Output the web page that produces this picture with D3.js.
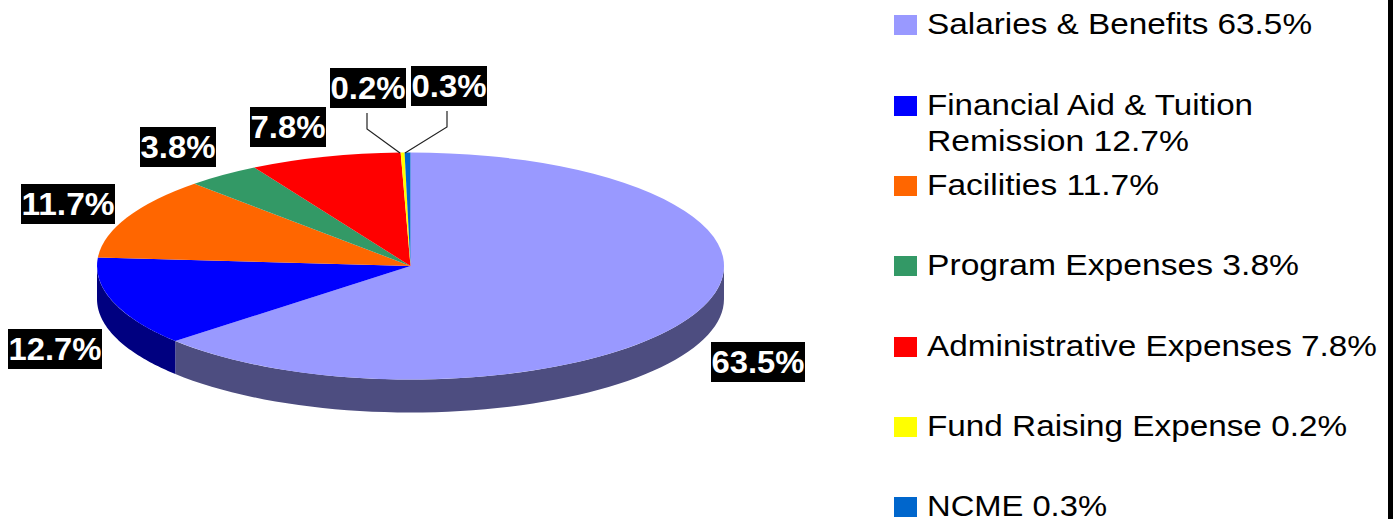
<!DOCTYPE html>
<html><head><meta charset="utf-8">
<script src="https://cdn.jsdelivr.net/npm/d3@7"></script>
<style>html,body{margin:0;padding:0;background:#fff;overflow:hidden}svg{display:block}
text{font-family:"Liberation Sans",Arial,sans-serif}</style></head>
<body><svg id="c" width="1393" height="519"></svg>
<script>
const categories=["Salaries & Benefits","Financial Aid & Tuition Remission","Facilities","Program Expenses","Administrative Expenses","Fund Raising Expense","NCME"];
const values=[63.5,12.7,11.7,3.8,7.8,0.2,0.3];
const topColors=["#9999FF","#0000FF","#FF6600","#339966","#FF0000","#FFFF00","#0066CC"];
const sideColors=["#4D4D80","#000080","#803300","#1A4D33","#800000","#808000","#003366"];
const legendLines=[["Salaries & Benefits 63.5%"],["Financial Aid & Tuition","Remission 12.7%"],["Facilities 11.7%"],["Program Expenses 3.8%"],["Administrative Expenses 7.8%"],["Fund Raising Expense 0.2%"],["NCME 0.3%"]];
const legendWidths=[[385],[326,262],[232],[372],[450],[420],[180]];
const legendY=[15,96,176,256,337,417,497];
const labelBoxes=[[711,342,94],[8,329,94],[21,184,94],[140,127,76],[250,107,76],[330,68,76],[411,66,76]];
const leaders=[null,null,null,null,null,[[367,113],[367,129],[400,153]],[[447,111],[447,127],[405,153]]];

const svg=d3.select("#c");
const cx=410.5,cy=266,rx=313.5,ry=113.5,depth=33;
const pie=d3.pie().sort(null).value(d=>d)(values);
const arc=d3.arc().innerRadius(0).outerRadius(rx);
const g=svg.append("g");

// side walls of the visible front half
const px=a=>cx+rx*Math.sin(a), py=a=>cy-ry*Math.cos(a);
const line=d3.line();
pie.forEach((p,i)=>{
  const a0=Math.max(p.startAngle,Math.PI/2), a1=Math.min(p.endAngle,3*Math.PI/2);
  if(a1<=a0) return;
  const as=d3.range(0,61).map(k=>a0+(a1-a0)*k/60);
  const pts=as.map(a=>[px(a),py(a)]).concat(as.slice().reverse().map(a=>[px(a),py(a)+depth]));
  g.append("path").attr("d",line(pts)+"Z").attr("fill",sideColors[i]);
});
// top face
const face=g.append("g").attr("transform",`translate(${cx},${cy}) scale(1,${ry/rx})`);
face.selectAll("path").data(pie).join("path").attr("d",arc).attr("fill",(d,i)=>topColors[i]);

// leaders
leaders.forEach(l=>{ if(l) svg.append("path").attr("d",line(l)).attr("fill","none").attr("stroke","#222").attr("stroke-width",1.2); });

// labels
values.forEach((v,i)=>{
  const [x,y,w]=labelBoxes[i];
  svg.append("rect").attr("x",x).attr("y",y).attr("width",w).attr("height",40).attr("fill","#000");
  svg.append("text").attr("x",x+w/2).attr("y",y+31).attr("text-anchor","middle")
    .attr("fill","#fff").attr("font-weight","bold").attr("font-size",31)
    .attr("textLength",w-1).attr("lengthAdjust","spacingAndGlyphs").text(v.toFixed(1)+"%");
});

// legend
categories.forEach((c,i)=>{
  svg.append("rect").attr("x",894).attr("y",legendY[i]).attr("width",23).attr("height",20).attr("fill",topColors[i]);
  legendLines[i].forEach((t,j)=>{
    svg.append("text").attr("x",927).attr("y",legendY[i]+19+j*36).attr("font-size",30).attr("fill","#000")
      .attr("textLength",legendWidths[i][j]).attr("lengthAdjust","spacingAndGlyphs").text(t);
  });
});
// right frame edge
svg.append("rect").attr("x",1388).attr("y",0).attr("width",5).attr("height",519).attr("fill","#000");
</script></body></html>
